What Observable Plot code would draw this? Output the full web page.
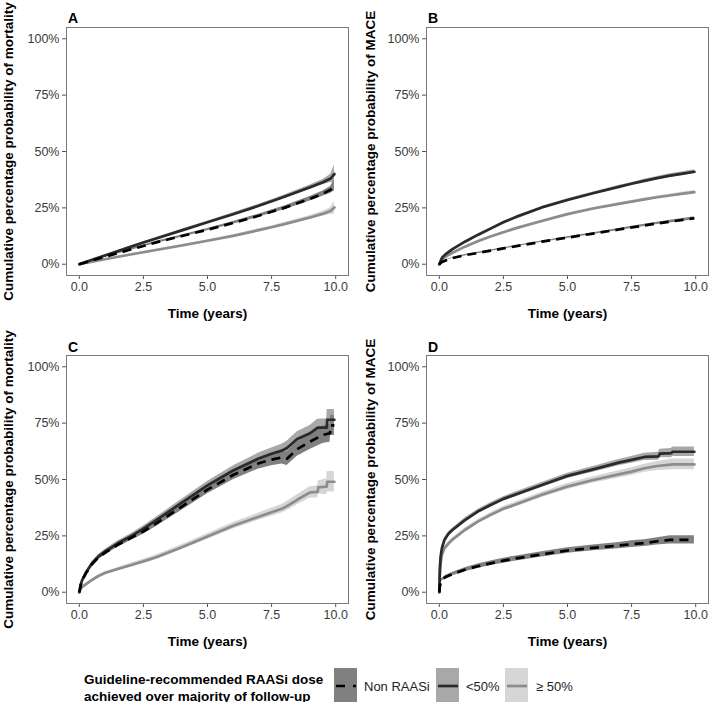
<!DOCTYPE html>
<html><head><meta charset="utf-8">
<script src="https://cdn.jsdelivr.net/npm/d3@7"></script>
<script src="https://cdn.jsdelivr.net/npm/@observablehq/plot@0.6"></script>
<style>
body{margin:0;background:#fff;}
#wrap{position:relative;width:709px;height:702px;overflow:hidden;font-family:"Liberation Sans",Arial,Helvetica,sans-serif;background:#fff;}
.panel{position:absolute;}
#legtitle{position:absolute;left:84px;top:672px;font-weight:bold;font-size:13.5px;line-height:16.5px;color:#000;white-space:nowrap;}
</style></head><body><div id="wrap"></div>
<script>
// ---- categories & ticks ----
const groups = ["Non RAASi", "<50%", "\u2265 50%"];
const xTicks = [0, 2.5, 5, 7.5, 10];
const xTickLabels = ["0.0", "2.5", "5.0", "7.5", "10.0"];
const yTicks = [0, 0.25, 0.5, 0.75, 1];
const yTickLabels = ["0%", "25%", "50%", "75%", "100%"];
const panelLetters = ["A", "B", "C", "D"];
const yTitles = ["Cumulative percentage probability of mortality", "Cumulative percentage probability of MACE",
                 "Cumulative percentage probability of mortality", "Cumulative percentage probability of MACE"];
const xTitle = "Time (years)";
const legendTitle = ["Guideline-recommended RAASi dose", "achieved over majority of follow-up"];

// ---- Panel A (mortality) ----
const A_t = [0, 0.5, 1, 2, 2.5, 3, 4, 5, 6, 7, 7.5, 8, 9, 9.5, 9.8, 9.95];
const A_non = [0, 0.017, 0.033, 0.065, 0.081, 0.097, 0.125, 0.153, 0.183, 0.215, 0.233, 0.250, 0.290, 0.313, 0.330, 0.350];
const A_non_ci = [0, 0.002, 0.003, 0.004, 0.004, 0.005, 0.005, 0.005, 0.006, 0.007, 0.007, 0.008, 0.010, 0.012, 0.015, 0.025];
const A_lt = [0, 0.020, 0.039, 0.077, 0.096, 0.114, 0.150, 0.186, 0.222, 0.259, 0.279, 0.299, 0.341, 0.364, 0.380, 0.400];
const A_lt_ci = [0, 0.002, 0.003, 0.004, 0.004, 0.005, 0.005, 0.005, 0.006, 0.007, 0.007, 0.008, 0.010, 0.012, 0.018, 0.040];
const A_ge = [0, 0.011, 0.022, 0.043, 0.053, 0.063, 0.083, 0.104, 0.126, 0.151, 0.164, 0.178, 0.207, 0.224, 0.236, 0.252];
const A_ge_ci = [0, 0.001, 0.002, 0.003, 0.003, 0.004, 0.004, 0.004, 0.005, 0.006, 0.006, 0.007, 0.009, 0.011, 0.014, 0.030];

// ---- Panel B (MACE) ----
const B_t = [0, 0.1, 0.25, 0.5, 1, 1.5, 2, 2.5, 3, 4, 5, 6, 7, 7.5, 8, 8.5, 9, 9.5, 9.95];
const B_non = [0, 0.010, 0.017, 0.027, 0.040, 0.050, 0.060, 0.070, 0.080, 0.100, 0.118, 0.136, 0.154, 0.163, 0.172, 0.181, 0.189, 0.197, 0.204];
const B_non_ci = [0, 0.002, 0.002, 0.002, 0.003, 0.003, 0.003, 0.003, 0.003, 0.003, 0.004, 0.004, 0.004, 0.005, 0.005, 0.005, 0.006, 0.006, 0.007];
const B_lt = [0, 0.028, 0.045, 0.066, 0.100, 0.130, 0.158, 0.186, 0.210, 0.252, 0.285, 0.315, 0.343, 0.357, 0.370, 0.382, 0.393, 0.402, 0.410];
const B_lt_ci = [0, 0.003, 0.003, 0.003, 0.003, 0.004, 0.004, 0.004, 0.004, 0.004, 0.005, 0.005, 0.006, 0.006, 0.007, 0.007, 0.008, 0.008, 0.009];
const B_ge = [0, 0.020, 0.034, 0.050, 0.078, 0.102, 0.123, 0.142, 0.160, 0.192, 0.222, 0.247, 0.268, 0.278, 0.288, 0.297, 0.305, 0.313, 0.320];
const B_ge_ci = [0, 0.002, 0.002, 0.003, 0.003, 0.003, 0.003, 0.003, 0.004, 0.004, 0.004, 0.005, 0.005, 0.005, 0.006, 0.006, 0.006, 0.007, 0.007];

// ---- Panel C (mortality) ----
const C_non_t = [0, 0.05, 0.1, 0.25, 0.5, 0.75, 1, 1.5, 2, 2.5, 3, 4, 5, 6, 7, 7.5, 7.9, 8.1, 8.5, 9, 9.5, 9.78, 9.8, 9.95];
const C_non = [0, 0.030, 0.050, 0.083, 0.125, 0.155, 0.175, 0.210, 0.240, 0.270, 0.305, 0.380, 0.455, 0.520, 0.572, 0.588, 0.598, 0.592, 0.635, 0.668, 0.698, 0.705, 0.740, 0.740];
const C_non_ci = [0, 0.006, 0.007, 0.008, 0.009, 0.010, 0.010, 0.011, 0.012, 0.013, 0.014, 0.016, 0.018, 0.021, 0.025, 0.027, 0.029, 0.030, 0.032, 0.035, 0.038, 0.040, 0.045, 0.045];
const C_lt_t = [0, 0.05, 0.1, 0.25, 0.5, 0.75, 1, 1.5, 2, 2.5, 3, 4, 5, 6, 7, 7.5, 7.9, 8.1, 8.5, 9, 9.3, 9.65, 9.67, 9.95];
const C_lt = [0, 0.030, 0.050, 0.085, 0.128, 0.158, 0.180, 0.217, 0.247, 0.282, 0.320, 0.397, 0.474, 0.540, 0.593, 0.614, 0.628, 0.640, 0.680, 0.705, 0.730, 0.730, 0.765, 0.765];
const C_lt_ci = [0, 0.005, 0.006, 0.007, 0.008, 0.009, 0.009, 0.010, 0.011, 0.012, 0.013, 0.015, 0.017, 0.020, 0.024, 0.026, 0.028, 0.030, 0.032, 0.035, 0.037, 0.040, 0.045, 0.045];
const C_ge_t = [0, 0.05, 0.1, 0.25, 0.5, 0.75, 1, 1.5, 2, 2.5, 3, 4, 5, 6, 7, 7.5, 7.9, 8.1, 8.5, 9, 9.3, 9.32, 9.65, 9.67, 9.95];
const C_ge = [0, 0.015, 0.022, 0.035, 0.055, 0.072, 0.085, 0.103, 0.120, 0.137, 0.155, 0.200, 0.247, 0.295, 0.335, 0.355, 0.370, 0.382, 0.410, 0.443, 0.445, 0.465, 0.468, 0.490, 0.490];
const C_ge_ci = [0, 0.003, 0.004, 0.004, 0.005, 0.006, 0.006, 0.007, 0.008, 0.009, 0.010, 0.011, 0.012, 0.014, 0.016, 0.018, 0.019, 0.020, 0.022, 0.025, 0.027, 0.030, 0.035, 0.045, 0.045];

// ---- Panel D (MACE) ----
const D_non_t = [0, 0.02, 0.05, 0.1, 0.25, 0.5, 1, 1.5, 2, 2.5, 3, 4, 5, 6, 7, 7.5, 8, 8.5, 9, 9.95];
const D_non = [0, 0.025, 0.040, 0.055, 0.068, 0.080, 0.100, 0.115, 0.128, 0.140, 0.150, 0.168, 0.185, 0.197, 0.207, 0.213, 0.218, 0.226, 0.232, 0.232];
const D_non_ci = [0, 0.005, 0.006, 0.006, 0.007, 0.008, 0.009, 0.010, 0.010, 0.011, 0.011, 0.012, 0.012, 0.013, 0.014, 0.015, 0.015, 0.016, 0.018, 0.018];
const D_lt_t = [0, 0.02, 0.05, 0.1, 0.2, 0.35, 0.5, 1, 1.5, 2, 2.5, 3, 4, 5, 6, 7, 7.5, 8, 8.55, 8.6, 9.05, 9.1, 9.95];
const D_lt = [0, 0.100, 0.158, 0.195, 0.232, 0.258, 0.275, 0.320, 0.358, 0.387, 0.414, 0.435, 0.476, 0.516, 0.545, 0.575, 0.587, 0.600, 0.603, 0.615, 0.617, 0.623, 0.623];
const D_lt_ci = [0, 0.008, 0.008, 0.008, 0.008, 0.008, 0.008, 0.009, 0.009, 0.010, 0.010, 0.011, 0.011, 0.012, 0.013, 0.014, 0.015, 0.016, 0.018, 0.019, 0.020, 0.021, 0.021];
const D_ge_t = [0, 0.02, 0.05, 0.1, 0.2, 0.35, 0.5, 1, 1.5, 2, 2.5, 3, 4, 5, 6, 7, 7.5, 8, 8.5, 9.1, 9.95];
const D_ge = [0, 0.080, 0.128, 0.165, 0.195, 0.215, 0.232, 0.276, 0.313, 0.343, 0.370, 0.390, 0.432, 0.469, 0.498, 0.523, 0.535, 0.550, 0.560, 0.567, 0.567];
const D_ge_ci = [0, 0.008, 0.008, 0.008, 0.008, 0.008, 0.008, 0.009, 0.009, 0.010, 0.010, 0.011, 0.012, 0.013, 0.014, 0.016, 0.017, 0.018, 0.020, 0.024, 0.024];

// ---- styles ----
const lineColor = {"Non RAASi": "#000000", "<50%": "#2a2a2a", "\u2265 50%": "#8c8c8c"};
const ribbonColor = {"Non RAASi": "#808080", "<50%": "#a8a8a8", "\u2265 50%": "#d6d6d6"};
const font = "'Liberation Sans', Arial, Helvetica, sans-serif";

function series(group, t, est, ci) {
  return t.map((d, i) => ({group, t: d, est: est[i], lo: Math.max(0, est[i] - ci[i]), hi: est[i] + ci[i]}));
}

const panelData = [
  [series(groups[0], A_t, A_non, A_non_ci), series(groups[1], A_t, A_lt, A_lt_ci), series(groups[2], A_t, A_ge, A_ge_ci)],
  [series(groups[0], B_t, B_non, B_non_ci), series(groups[1], B_t, B_lt, B_lt_ci), series(groups[2], B_t, B_ge, B_ge_ci)],
  [series(groups[0], C_non_t, C_non, C_non_ci), series(groups[1], C_lt_t, C_lt, C_lt_ci), series(groups[2], C_ge_t, C_ge, C_ge_ci)],
  [series(groups[0], D_non_t, D_non, D_non_ci), series(groups[1], D_lt_t, D_lt, D_lt_ci), series(groups[2], D_ge_t, D_ge, D_ge_ci)]
];

const layout = [
  {left: 0,   top: 0,   width: 354, height: 322, ml: 66, mr: 6, mt: 27, mb: 47, tdx: -53.5, ldy: -5},
  {left: 354, top: 0,   width: 355, height: 322, ml: 72, mr: 1, mt: 27, mb: 47, tdx: -52,   ldy: -5},
  {left: 0,   top: 322, width: 354, height: 328, ml: 66, mr: 6, mt: 33, mb: 47, tdx: -53.5, ldy: -3.5},
  {left: 354, top: 322, width: 355, height: 328, ml: 72, mr: 1, mt: 33, mb: 47, tdx: -52,   ldy: -3.5}
];

const wrap = document.getElementById("wrap");
const drawOrder = [2, 1, 0];

panelData.forEach((sets, p) => {
  const L = layout[p];
  const marks = [];
  for (const k of drawOrder) {
    const g = groups[k];
    marks.push(Plot.areaY(sets[k], {x: "t", y1: "lo", y2: "hi", fill: ribbonColor[g]}));
  }
  for (const k of drawOrder) {
    const g = groups[k];
    const opts = {x: "t", y: "est", stroke: lineColor[g], strokeWidth: 2.7};
    if (k === 0) { opts.strokeDasharray = "9,6"; opts.strokeLinecap = "butt"; }
    marks.push(Plot.line(sets[k], opts));
  }
  marks.push(
    Plot.axisX({ticks: xTicks, tickFormat: (d) => xTickLabels[xTicks.indexOf(d)], tickSize: 4, tickPadding: 3, label: null, stroke: "#555", fill: "#3a3a3a"}),
    Plot.axisY({ticks: yTicks, tickFormat: (d) => yTickLabels[yTicks.indexOf(d)], tickSize: 4, tickPadding: 3, label: null, stroke: "#555", fill: "#3a3a3a"}),
    Plot.frame({stroke: "#7a7a7a", strokeWidth: 1}),
    Plot.text([yTitles[p]], {text: (d) => d, frameAnchor: "left", textAnchor: "middle", dx: L.tdx, rotate: -90, lineAnchor: "bottom", fontWeight: "bold", fontSize: 13.5, fill: "#000"}),
    Plot.text([xTitle], {text: (d) => d, frameAnchor: "bottom", textAnchor: "middle", dy: 38, lineAnchor: "middle", fontWeight: "bold", fontSize: 13.5, fill: "#000"}),
    Plot.text([panelLetters[p]], {text: (d) => d, frameAnchor: "top-left", textAnchor: "start", lineAnchor: "bottom", dx: 1.5, dy: L.ldy, fontWeight: "bold", fontSize: 14, fill: "#000"})
  );
  const chart = Plot.plot({
    width: L.width, height: L.height,
    marginLeft: L.ml, marginRight: L.mr, marginTop: L.mt, marginBottom: L.mb,
    x: {domain: [-0.5, 10.5]},
    y: {domain: [-0.05, 1.05]},
    style: {fontFamily: font, fontSize: "12.5px", background: "transparent", overflow: "visible", color: "#3a3a3a"},
    marks
  });
  chart.classList.add("panel");
  chart.style.left = L.left + "px";
  chart.style.top = L.top + "px";
  wrap.appendChild(chart);
});

// ---- legend ----
const lt = document.createElement("div");
lt.id = "legtitle";
lt.innerHTML = legendTitle.join("<br>");
wrap.appendChild(lt);

const keyX = [334, 436, 505];
const labelX = [364, 466, 536];
const ns = "http://www.w3.org/2000/svg";
const svg = document.createElementNS(ns, "svg");
svg.setAttribute("width", 709);
svg.setAttribute("height", 42);
svg.style.position = "absolute";
svg.style.left = "0px";
svg.style.top = "660px";
groups.forEach((g, i) => {
  const r = document.createElementNS(ns, "rect");
  r.setAttribute("x", keyX[i]); r.setAttribute("y", 8);
  r.setAttribute("width", 23); r.setAttribute("height", 40);
  r.setAttribute("fill", ribbonColor[g]);
  svg.appendChild(r);
  const l = document.createElementNS(ns, "line");
  l.setAttribute("x1", keyX[i] + 2); l.setAttribute("x2", keyX[i] + 22);
  l.setAttribute("y1", 26); l.setAttribute("y2", 26);
  l.setAttribute("stroke", lineColor[g]); l.setAttribute("stroke-width", 2.7);
  if (i === 0) l.setAttribute("stroke-dasharray", "9,8");
  svg.appendChild(l);
  const t = document.createElementNS(ns, "text");
  t.setAttribute("x", labelX[i]); t.setAttribute("y", 30.5);
  t.setAttribute("font-family", font); t.setAttribute("font-size", 13);
  t.setAttribute("fill", "#222");
  t.textContent = g;
  svg.appendChild(t);
});
wrap.appendChild(svg);
</script>
</body></html>
